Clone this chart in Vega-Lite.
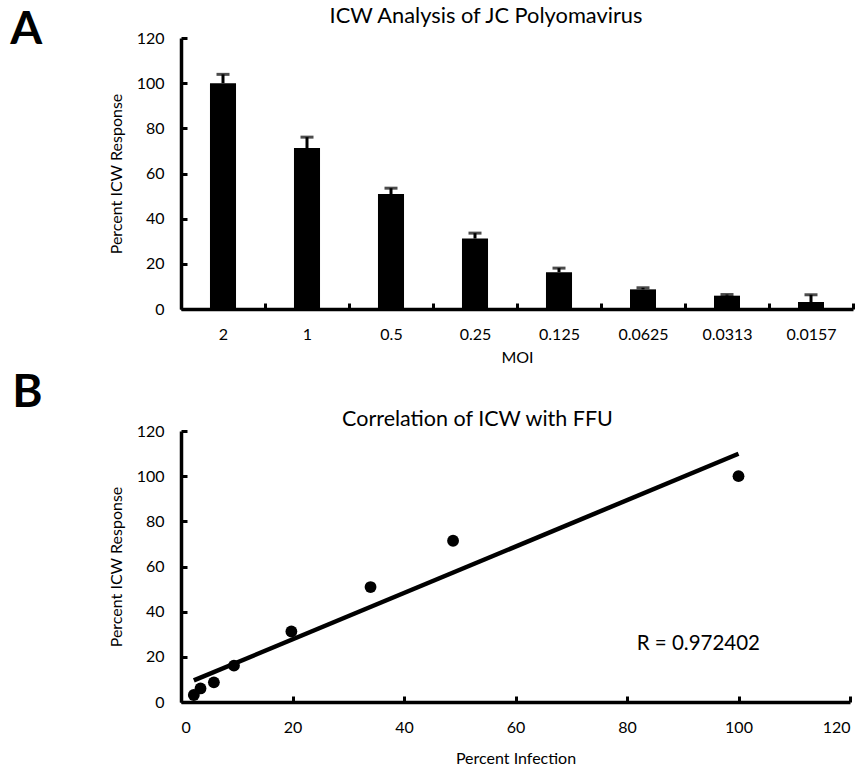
{
  "$schema": "https://vega.github.io/schema/vega-lite/v6.json",
  "background": "white",
  "padding": {"left": 10, "top": 6, "right": 0, "bottom": 0},
  "spacing": 5,
  "config": {
    "font": "Lato",
    "view": {"stroke": null},
    "axis": {
      "domainColor": "black", "domainWidth": 3.5,
      "tickColor": "black", "tickWidth": 3, "tickSize": -6,
      "labelColor": "black", "labelFontSize": 16, "labelFont": "Lato",
      "titleColor": "black", "titleFontSize": 16, "titleFontWeight": "normal", "titleFont": "Lato",
      "grid": false
    },
    "title": {"fontWeight": "normal", "color": "black", "font": "Lato"}
  },
  "vconcat": [
    {
      "title": {"text": "A", "fontSize": 46, "fontWeight": "bold", "anchor": "start", "offset": -47.5, "dx": -98},
      "vconcat": [
        {
          "width": 672,
          "height": 271,
          "title": {"text": "ICW Analysis of JC Polyomavirus", "fontSize": 21.8, "frame": "group", "baseline": "alphabetic", "offset": -15, "dx": -31},
          "data": {"values": [
            {"moi": "2", "icw": 100, "err": 103.9},
            {"moi": "1", "icw": 71.3, "err": 76.1},
            {"moi": "0.5", "icw": 50.9, "err": 53.5},
            {"moi": "0.25", "icw": 31.2, "err": 33.6},
            {"moi": "0.125", "icw": 16.3, "err": 18.1},
            {"moi": "0.0625", "icw": 8.7, "err": 9.4},
            {"moi": "0.0313", "icw": 5.9, "err": 6.4},
            {"moi": "0.0157", "icw": 3.1, "err": 6.3}
          ]},
          "encoding": {
            "x": {"field": "moi", "type": "nominal", "sort": null,
                  "scale": {"paddingInner": 0, "paddingOuter": 0},
                  "axis": {"title": "MOI", "labelAngle": 0, "tickBand": "extent", "labelPadding": 23, "titlePadding": 7}}
          },
          "layer": [
            {
              "mark": {"type": "bar", "color": "black", "width": {"band": 0.31}},
              "encoding": {
                "y": {"field": "icw", "type": "quantitative", "scale": {"domain": [0, 120]},
                      "axis": {"title": "Percent ICW Response", "values": [0, 20, 40, 60, 80, 100, 120], "labelPadding": 23, "titlePadding": 12}}
              }
            },
            {
              "mark": {"type": "rule", "color": "black", "strokeWidth": 3},
              "encoding": {"y": {"field": "icw", "type": "quantitative"}, "y2": {"field": "err"}}
            },
            {
              "mark": {"type": "tick", "color": "black", "thickness": 3, "size": 13},
              "encoding": {"y": {"field": "err", "type": "quantitative"}}
            }
          ]
        }
      ]
    },
    {
      "title": {"text": "B", "fontSize": 46, "fontWeight": "bold", "anchor": "start", "offset": -8.5, "dx": -96},
      "vconcat": [
        {
          "width": 669,
          "height": 271,
          "title": {"text": "Correlation of ICW with FFU", "fontSize": 21.5, "frame": "group", "baseline": "alphabetic", "offset": -24, "dx": -38},
          "layer": [
            {
              "data": {"values": [
                {"inf": 2.3, "icw": 3.1},
                {"inf": 3.5, "icw": 6.0},
                {"inf": 5.9, "icw": 8.7},
                {"inf": 9.5, "icw": 16.1},
                {"inf": 19.8, "icw": 31.2},
                {"inf": 34.0, "icw": 50.9},
                {"inf": 48.8, "icw": 71.4},
                {"inf": 100.0, "icw": 100.0}
              ]},
              "layer": [
                {
                  "mark": {"type": "point", "filled": true, "color": "black", "size": 140, "opacity": 1},
                  "encoding": {
                    "x": {"field": "inf", "type": "quantitative", "scale": {"domain": [0, 120]},
                          "axis": {"title": "Percent Infection", "values": [0, 20, 40, 60, 80, 100, 120], "labelPadding": 23, "titlePadding": 15}},
                    "y": {"field": "icw", "type": "quantitative", "scale": {"domain": [0, 120]},
                          "axis": {"title": "Percent ICW Response", "values": [0, 20, 40, 60, 80, 100, 120], "labelPadding": 23, "titlePadding": 12}}
                  }
                },
                {
                  "transform": [{"regression": "icw", "on": "inf"}],
                  "mark": {"type": "line", "color": "black", "strokeWidth": 4.5},
                  "encoding": {
                    "x": {"field": "inf", "type": "quantitative"},
                    "y": {"field": "icw", "type": "quantitative"}
                  }
                }
              ]
            },
            {
              "data": {"values": [{"label": "R = 0.972402"}]},
              "mark": {"type": "text", "fontSize": 20.5, "color": "black", "baseline": "middle", "align": "center"},
              "encoding": {
                "text": {"field": "label"},
                "x": {"datum": 92.8},
                "y": {"datum": 25.5}
              }
            }
          ]
        }
      ]
    }
  ]
}
